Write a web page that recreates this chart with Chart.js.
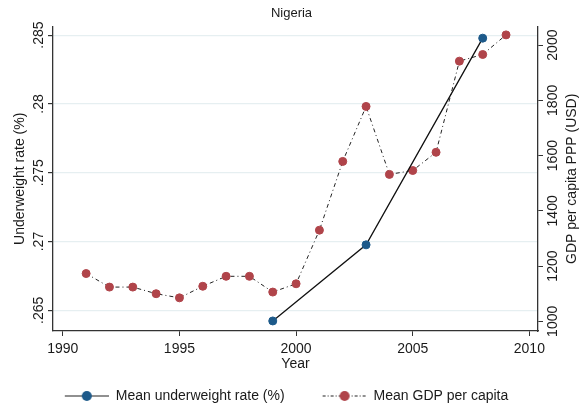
<!DOCTYPE html>
<html>
<head>
<meta charset="utf-8">
<script src="https://cdn.jsdelivr.net/npm/chart.js@4.4.1/dist/chart.umd.min.js"></script>
<style>
  html, body { margin: 0; padding: 0; background: #fff; }
  #wrap { width: 583px; height: 410px; position: relative; }
</style>
</head>
<body>
<div id="wrap"><canvas id="chart"></canvas></div>
<script>
// Nigeria: underweight rate vs GDP per capita
const underweightYears = [1999, 2003, 2008];
const underweightRate = [0.26423, 0.26976, 0.28478];

const gdpYears = [1991, 1992, 1993, 1994, 1995, 1996, 1997, 1998, 1999, 2000,
  2001, 2002, 2003, 2004, 2005, 2006, 2007, 2008, 2009];
const gdpPerCapita = [1173, 1124, 1124, 1100, 1085, 1127, 1163, 1163, 1106, 1136,
  1330, 1579, 1778, 1532, 1546, 1612, 1942, 1966, 2037];

const yearTicks = [1990, 1995, 2000, 2005, 2010];
const rateTicks = [0.265, 0.27, 0.275, 0.28, 0.285];
const rateTickLabels = ['.265', '.27', '.275', '.28', '.285'];
const gdpTicks = [1000, 1200, 1400, 1600, 1800, 2000];

const BLUE = '#1d5a8a';
const RED = '#b0444a';
const INK = '#1a1a1a';
const FONT = "'Liberation Sans', Arial, sans-serif";

// legend samples: line with a marker in the middle, right-aligned in a
// wider transparent box so the gap between legend items is wide
const SAMPLE_BOX = 70, SAMPLE_W = 44;
function legendSample(color, dash) {
  const c = document.createElement('canvas');
  c.width = SAMPLE_BOX; c.height = 12;
  const g = c.getContext('2d');
  const x0 = SAMPLE_BOX - SAMPLE_W;
  g.strokeStyle = '#222';
  g.lineWidth = 1.2;
  g.setLineDash(dash);
  g.beginPath(); g.moveTo(x0, 6); g.lineTo(SAMPLE_BOX, 6); g.stroke();
  g.setLineDash([]);
  g.fillStyle = color;
  g.beginPath(); g.arc(x0 + SAMPLE_W / 2, 6, 5, 0, Math.PI * 2); g.fill();
  return c;
}
const samples = [legendSample(BLUE, []), legendSample(RED, [3, 2, 1, 2])];

const fixWidth = w => scale => { scale.width = w; };

// nudge the legend left to cancel the transparent lead-in of the first sample
const legendShift = {
  id: 'legendShift',
  afterLayout(chart) {
    const shift = SAMPLE_BOX - SAMPLE_W - 8;
    chart.legend.left -= shift;
    chart.legend.right -= shift;
  }
};

// rotated y tick labels and axis titles (Stata style, reading upwards)
const verticalText = {
  id: 'verticalText',
  afterDraw(chart) {
    const ctx = chart.ctx;
    const area = chart.chartArea;
    const put = (txt, x, y, size) => {
      ctx.save();
      ctx.translate(x, y);
      ctx.rotate(-Math.PI / 2);
      ctx.font = size + 'px ' + FONT;
      ctx.fillStyle = INK;
      ctx.textAlign = 'center';
      ctx.textBaseline = 'middle';
      ctx.fillText(txt, 0, 0);
      ctx.restore();
    };
    const y = chart.scales.y, y1 = chart.scales.y1;
    rateTicks.forEach((v, i) => put(rateTickLabels[i], area.left - 14, y.getPixelForValue(v), 14));
    gdpTicks.forEach(v => put(String(v), area.right + 15, y1.getPixelForValue(v), 14));
    put('Underweight rate (%)', area.left - 33, (area.top + area.bottom) / 2, 14);
    put('GDP per capita PPP (USD)', area.right + 34, (area.top + area.bottom) / 2, 14);
  }
};

new Chart(document.getElementById('chart'), {
  type: 'line',
  data: {
    datasets: [
      {
        label: 'Mean underweight rate (%)',
        data: underweightYears.map((yr, i) => ({ x: yr, y: underweightRate[i] })),
        yAxisID: 'y',
        borderColor: '#111',
        borderWidth: 1.3,
        pointBackgroundColor: BLUE,
        pointBorderColor: BLUE,
        pointRadius: 4,
        pointBorderWidth: 1,
        tension: 0,
        order: 1
      },
      {
        label: 'Mean GDP per capita',
        data: gdpYears.map((yr, i) => ({ x: yr, y: gdpPerCapita[i] })),
        yAxisID: 'y1',
        borderColor: '#222',
        borderWidth: 1,
        borderDash: [4, 3, 1, 3],
        pointBackgroundColor: RED,
        pointBorderColor: RED,
        pointRadius: 4,
        pointBorderWidth: 1,
        tension: 0,
        order: 2
      }
    ]
  },
  options: {
    responsive: true,
    maintainAspectRatio: false,
    animation: false,
    layout: { padding: { top: 0, left: 0, right: 0, bottom: -3 } },
    plugins: {
      title: {
        display: true,
        text: 'Nigeria',
        color: INK,
        font: { family: FONT, size: 13, weight: 'normal' },
        padding: { top: 6, bottom: 5 }
      },
      legend: {
        position: 'bottom',
        labels: {
          usePointStyle: true,
          pointStyleWidth: SAMPLE_BOX,
          padding: 12,
          color: INK,
          font: { family: FONT, size: 14 },
          generateLabels: chart =>
            Chart.defaults.plugins.legend.labels.generateLabels(chart).map((item, i) => {
              item.pointStyle = samples[i];
              return item;
            })
        }
      },
      tooltip: { enabled: false }
    },
    scales: {
      x: {
        type: 'linear',
        min: 1989.58,
        max: 2010.37,
        afterBuildTicks: s => { s.ticks = yearTicks.map(v => ({ value: v })); },
        ticks: {
          color: INK,
          padding: 5,
          maxRotation: 0,
          font: { family: FONT, size: 14 },
          callback: v => String(v)
        },
        grid: { drawOnChartArea: false, tickLength: 5, tickColor: '#333' },
        border: { color: '#333', width: 1.3 },
        title: {
          display: true,
          text: 'Year',
          color: INK,
          font: { family: FONT, size: 14 },
          padding: { top: 0, bottom: 4 }
        },
        afterFit: s => { s.height = 46; }
      },
      y: {
        type: 'linear',
        position: 'left',
        min: 0.2635,
        max: 0.28562,
        afterBuildTicks: s => { s.ticks = rateTicks.map(v => ({ value: v })); },
        afterFit: fixWidth(53),
        ticks: { display: false },
        grid: { color: '#e6eff1', lineWidth: 1.2, tickLength: 5, tickColor: '#333' },
        border: { color: '#333', width: 1.3 }
      },
      y1: {
        type: 'linear',
        position: 'right',
        min: 965,
        max: 2067,
        afterBuildTicks: s => { s.ticks = gdpTicks.map(v => ({ value: v })); },
        afterFit: fixWidth(45),
        ticks: { display: false },
        grid: { drawOnChartArea: false, tickLength: 5, tickColor: '#333' },
        border: { color: '#333', width: 1.3 }
      }
    }
  },
  plugins: [verticalText, legendShift]
});
</script>
</body>
</html>
